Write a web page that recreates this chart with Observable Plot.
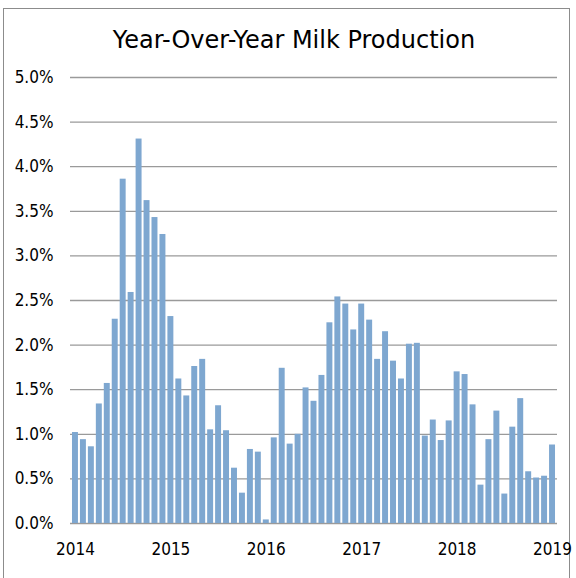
<!DOCTYPE html>
<html>
<head>
<meta charset="utf-8">
<script src="https://cdn.jsdelivr.net/npm/d3@7"></script>
<script src="https://cdn.jsdelivr.net/npm/@observablehq/plot@0.6"></script>
<style>
  html, body { margin: 0; padding: 0; background: #fff; }
  body { width: 576px; height: 578px; position: relative; overflow: hidden; font-family: "DejaVu Sans Condensed", "DejaVu Sans", sans-serif; }
  #frame { position: absolute; left: 3px; top: 8px; width: 567px; height: 580px; border: 1.5px solid #8c8c8c; box-sizing: border-box; }
  #title { position: absolute; left: 0; top: 26px; width: 588px; text-align: center; font-family: "DejaVu Sans", sans-serif; font-size: 24px; color: #000; }
  #chart { position: absolute; left: 0; top: 0; }
</style>
</head>
<body>
<div id="frame"></div>
<div id="title">Year-Over-Year Milk Production</div>
<div id="chart"></div>
<script>
// Year-over-year change in milk production, percent, monthly Jan 2014 – Jan 2019
const years = [2014, 2015, 2016, 2017, 2018, 2019];
const yoy2014 = [1.02, 0.94, 0.86, 1.34, 1.57, 2.29, 3.86, 2.59, 4.31, 3.62, 3.43, 3.24];
const yoy2015 = [2.32, 1.62, 1.43, 1.76, 1.84, 1.05, 1.32, 1.04, 0.62, 0.34, 0.83, 0.80];
const yoy2016 = [0.04, 0.96, 1.74, 0.89, 1.00, 1.52, 1.37, 1.66, 2.25, 2.54, 2.46, 2.17];
const yoy2017 = [2.46, 2.28, 1.84, 2.15, 1.82, 1.62, 2.01, 2.02, 0.98, 1.16, 0.93, 1.15];
const yoy2018 = [1.70, 1.67, 1.33, 0.43, 0.94, 1.26, 0.33, 1.08, 1.40, 0.58, 0.51, 0.53];
const yoy2019 = [0.88];
const yTicks = [0, 0.5, 1.0, 1.5, 2.0, 2.5, 3.0, 3.5, 4.0, 4.5, 5.0];

const series = [yoy2014, yoy2015, yoy2016, yoy2017, yoy2018, yoy2019];
const data = [];
series.forEach((vals, i) => vals.forEach((v, m) => data.push({
  key: `${years[i]}-${String(m + 1).padStart(2, "0")}`,
  year: years[i], month: m + 1, value: v / 100
})));
const xTicks = data.filter(d => d.month === 1).map(d => d.key);

const chart = Plot.plot({
  width: 576,
  height: 578,
  marginLeft: 70,
  marginRight: 19,
  marginTop: 77,
  marginBottom: 55,
  style: { fontFamily: '"DejaVu Sans Condensed", "DejaVu Sans", sans-serif', fontSize: "17px", color: "#000", background: "transparent" },
  x: { type: "band", domain: data.map(d => d.key), padding: 0.25, align: 0.5 },
  y: { domain: [0, 0.05] },
  marks: [
    Plot.ruleY(yTicks.map(t => t / 100), { stroke: "#9a9a9a", strokeWidth: 1.3, strokeOpacity: 1 }),
    Plot.barY(data, { x: "key", y: "value", fill: "#7ea7d0" }),
    Plot.axisX({ ticks: xTicks, tickSize: 0, tickPadding: 19, tickFormat: k => k.slice(0, 4), label: null, fontSize: 17 }),
    Plot.axisY({ ticks: yTicks.map(t => t / 100), tickSize: 0, tickPadding: 17, tickFormat: d3.format(".1%"), label: null, fontSize: 17 })
  ]
});
document.getElementById("chart").appendChild(chart);
</script>
</body>
</html>
